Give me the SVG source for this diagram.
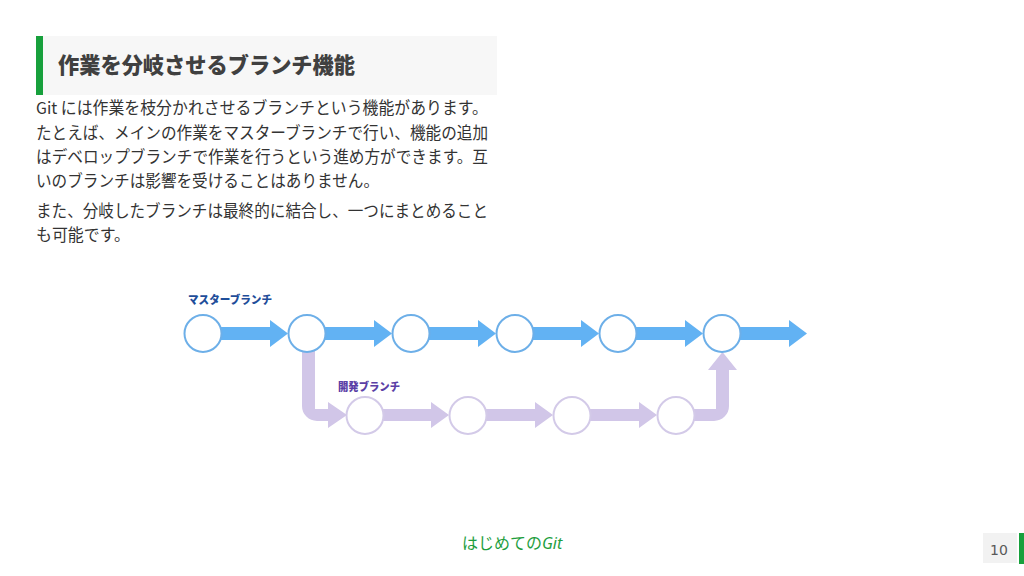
<svg xmlns="http://www.w3.org/2000/svg" width="1024" height="576" viewBox="0 0 1024 576">
<style>
.bg{fill:#ffffff}
.title{font-family:"Noto Sans CJK JP","Noto Sans",sans-serif;font-weight:900;font-size:22px;fill:#404040}
.body{font-family:"Noto Sans CJK JP","Noto Sans",sans-serif;font-size:16.5px;fill:#333333}
.lbl{font-family:"Noto Sans CJK JP",sans-serif;font-weight:900;font-size:11px}
.m{fill:#62B2F3}
.d{fill:#D1C6E8}
.mc{fill:#ffffff;stroke:#6DAFE8;stroke-width:2}
.dc{fill:#ffffff;stroke:#D3CAE8;stroke-width:2}
.foot{font-family:"Noto Sans CJK JP","Noto Sans",sans-serif;font-size:16px;fill:#1E9E3E}
.pg{font-family:"DejaVu Sans",sans-serif;font-size:14px;fill:#595959}
</style>
<rect class="bg" x="0" y="0" width="1024" height="576"/>
<g id="header">
<rect x="43" y="36" width="454" height="59" fill="#F7F7F7"/>
<rect x="36" y="36" width="7" height="59" fill="#17A03C"/>
<text class="title" x="58" y="73" textLength="297" lengthAdjust="spacingAndGlyphs">作業を分岐させるブランチ機能</text>
</g>
<g id="body-text">
<text class="body" x="36" y="114" textLength="452" lengthAdjust="spacingAndGlyphs">Git には作業を枝分かれさせるブランチという機能があります。</text>
<text class="body" x="36" y="139" textLength="452" lengthAdjust="spacingAndGlyphs">たとえば、メインの作業をマスターブランチで行い、機能の追加</text>
<text class="body" x="36" y="163" textLength="452" lengthAdjust="spacingAndGlyphs">はデベロップブランチで作業を行うという進め方ができます。互</text>
<text class="body" x="36" y="187" textLength="343" lengthAdjust="spacingAndGlyphs">いのブランチは影響を受けることはありません。</text>
<text class="body" x="36" y="217" textLength="452" lengthAdjust="spacingAndGlyphs">また、分岐したブランチは最終的に結合し、一つにまとめること</text>
<text class="body" x="36" y="241" textLength="94" lengthAdjust="spacingAndGlyphs">も可能です。</text>
</g>
<g id="connectors">
<path class="m" d="M221,327 H270 V320 L288,333.5 L270,347 V340 H221 Z"/>
<path class="m" d="M325,327 H374 V320 L392,333.5 L374,347 V340 H325 Z"/>
<path class="m" d="M429,327 H478 V320 L496,333.5 L478,347 V340 H429 Z"/>
<path class="m" d="M533,327 H581 V320 L599,333.5 L581,347 V340 H533 Z"/>
<path class="m" d="M636,327 H685 V320 L703,333.5 L685,347 V340 H636 Z"/>
<path class="m" d="M740,327 H789 V320 L807,333.5 L789,347 V340 H740 Z"/>
<path class="d" d="M302,350 V406 A15,15 0 0 0 317,421 H328 V428 L347,415 L328,402 V409 H315 V350 Z"/>
<path class="d" d="M383,409 H431 V402 L449,415 L431,428 V421 H383 Z"/>
<path class="d" d="M486,409 H535 V402 L553,415 L535,428 V421 H486 Z"/>
<path class="d" d="M590,409 H639 V402 L657,415 L639,428 V421 H590 Z"/>
<path class="d" d="M693,409 H716 V370 H708 L722.5,352 L737,370 H729 V406 A15,15 0 0 1 714,421 H693 Z"/>
</g>
<g id="master-label">
<text class="lbl" x="188" y="304" fill="#1F4E9A" textLength="84" lengthAdjust="spacingAndGlyphs">マスターブランチ</text>
</g>
<g id="dev-label">
<text class="lbl" x="338" y="391" fill="#5B3FA6" textLength="62" lengthAdjust="spacingAndGlyphs">開発ブランチ</text>
</g>
<g id="m1"><circle class="mc" cx="203" cy="333.5" r="18.5"/></g>
<g id="m2"><circle class="mc" cx="307" cy="333.5" r="18.5"/></g>
<g id="m3"><circle class="mc" cx="411" cy="333.5" r="18.5"/></g>
<g id="m4"><circle class="mc" cx="515" cy="333.5" r="18.5"/></g>
<g id="m5"><circle class="mc" cx="618" cy="333.5" r="18.5"/></g>
<g id="m6"><circle class="mc" cx="722" cy="333.5" r="18.5"/></g>
<g id="d1"><circle class="dc" cx="365" cy="415.5" r="18.5"/></g>
<g id="d2"><circle class="dc" cx="468" cy="415.5" r="18.5"/></g>
<g id="d3"><circle class="dc" cx="572" cy="415.5" r="18.5"/></g>
<g id="d4"><circle class="dc" cx="676" cy="415.5" r="18.5"/></g>
<g id="footer">
<text class="foot" x="462" y="549">はじめての<tspan font-style="italic" font-family="'Noto Sans',sans-serif">Git</tspan></text>
</g>
<g id="page-number">
<rect x="983" y="533" width="34" height="30" fill="#F2F2F2"/>
<rect x="1019" y="533" width="5" height="31" fill="#17A03C"/>
<text class="pg" x="999" y="555" text-anchor="middle">10</text>
</g>
</svg>
